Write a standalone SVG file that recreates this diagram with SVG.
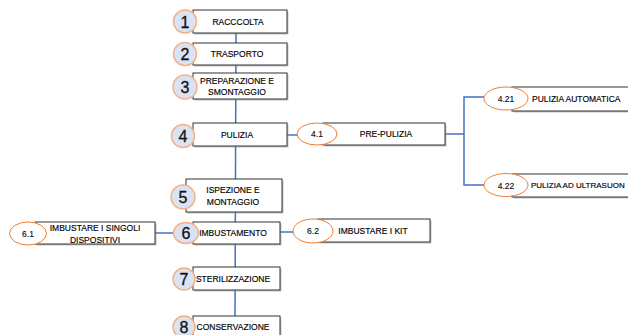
<svg xmlns="http://www.w3.org/2000/svg" width="628" height="335" viewBox="0 0 628 335">
<style>
.box{fill:#fff;stroke:#333;stroke-width:1}
.sh{fill:#999;opacity:.6}
.num{fill:#dae3f3;stroke:#f4b183;stroke-width:1.5}
.sub{fill:#fff;stroke:#ed7d31;stroke-width:1}
.lbl{font-family:"Liberation Sans",Arial,sans-serif;font-size:8.5px;fill:#000;stroke:#000;stroke-width:0.15;text-anchor:middle;dominant-baseline:central}
.n{font-family:"Liberation Sans",Arial,sans-serif;font-size:16px;fill:#111;stroke:#111;stroke-width:0.3;text-anchor:middle;dominant-baseline:central}
.sn{font-family:"Liberation Sans",Arial,sans-serif;font-size:8.5px;fill:#111;stroke:#111;stroke-width:0.15;text-anchor:middle;dominant-baseline:central}
.c{stroke:#4472c4;stroke-width:1.5;fill:none}
</style>
<rect width="628" height="335" fill="#fff"/>
<g id="connectors">
<line class="c" x1="236" y1="33" x2="235" y2="318"/>
<line class="c" x1="287" y1="135" x2="298" y2="135"/>
<line class="c" x1="445" y1="134" x2="464" y2="134"/>
<polyline class="c" points="484,97 464,97 464,185 484,185"/>
<line class="c" x1="155" y1="233" x2="175" y2="233"/>
<line class="c" x1="280" y1="232" x2="294" y2="232"/>
</g>
<g id="n1"><rect class="sh" x="194.5" y="11.5" width="94" height="23"/><rect class="box" x="193" y="10" width="94" height="23"/><circle class="num" cx="185" cy="21.5" r="11.5"/><text class="n" x="185" y="22">1</text><text class="lbl" x="238" y="22">RACCCOLTA</text></g>
<g id="n2"><rect class="sh" x="194.5" y="44.5" width="94" height="22"/><rect class="box" x="193" y="43" width="94" height="22"/><circle class="num" cx="185" cy="54" r="11.5"/><text class="n" x="185" y="54.5">2</text><text class="lbl" x="237" y="54">TRASPORTO</text></g>
<g id="n3"><rect class="sh" x="194.5" y="74.5" width="94" height="26"/><rect class="box" x="193" y="73" width="94" height="26"/><circle class="num" cx="185" cy="87" r="12"/><text class="n" x="185" y="87.5">3</text><text class="lbl" x="237" y="81">PREPARAZIONE E</text><text class="lbl" x="237" y="92">SMONTAGGIO</text></g>
<g id="n4"><rect class="sh" x="194.5" y="124.5" width="94" height="23"/><rect class="box" x="193" y="123" width="94" height="23"/><circle class="num" cx="183" cy="136" r="11.5"/><text class="n" x="183" y="136.5">4</text><text class="lbl" x="237" y="135">PULIZIA</text></g>
<g id="n5"><rect class="sh" x="187.5" y="180.5" width="96" height="33"/><rect class="box" x="186" y="179" width="96" height="33"/><circle class="num" cx="183" cy="197" r="12"/><text class="n" x="183" y="197.5">5</text><text class="lbl" x="233" y="190">ISPEZIONE E</text><text class="lbl" x="233" y="202">MONTAGGIO</text></g>
<g id="n6"><rect class="sh" x="194.5" y="223.5" width="87" height="22"/><rect class="box" x="193" y="222" width="87" height="22"/><ellipse class="num" cx="186" cy="233" rx="12.5" ry="10.5"/><text class="n" x="186" y="233.5">6</text><text class="lbl" x="233" y="233">IMBUSTAMENTO</text></g>
<g id="n7"><rect class="sh" x="194.5" y="268.5" width="87" height="23"/><rect class="box" x="193" y="267" width="87" height="23"/><circle class="num" cx="184" cy="279" r="11"/><text class="n" x="184" y="279.5">7</text><text class="lbl" x="233" y="279">STERILIZZAZIONE</text></g>
<g id="n8"><rect class="sh" x="194.5" y="317.5" width="87" height="23"/><rect class="box" x="193" y="316" width="87" height="23"/><circle class="num" cx="184" cy="327" r="11"/><text class="n" x="184" y="327.5">8</text><text class="lbl" x="233" y="327">CONSERVAZIONE</text></g>
<g id="n41"><rect class="sh" x="324.5" y="124.5" width="122" height="22"/><rect class="box" x="323" y="123" width="122" height="22"/><ellipse class="sub" cx="317" cy="134" rx="20" ry="11"/><text class="sn" x="317" y="134">4.1</text><text class="lbl" x="386" y="134">PRE-PULIZIA</text></g>
<g id="n421"><rect class="sh" x="513.5" y="88.5" width="130" height="24"/><rect class="box" x="512" y="87" width="130" height="24"/><ellipse class="sub" cx="506" cy="98.5" rx="22" ry="11.5"/><text class="sn" x="506" y="98.5">4.21</text><text class="lbl" x="532" y="99" style="text-anchor:start">PULIZIA AUTOMATICA</text></g>
<g id="n422"><rect class="sh" x="513.5" y="175.5" width="130" height="23"/><rect class="box" x="512" y="174" width="130" height="23"/><ellipse class="sub" cx="506" cy="185" rx="22" ry="11.5"/><text class="sn" x="506" y="185.5">4.22</text><text class="lbl" x="531" y="185" style="text-anchor:start;font-size:8px">PULIZIA AD ULTRASUON</text></g>
<g id="n61"><rect class="sh" x="36.5" y="223.5" width="120" height="22"/><rect class="box" x="35" y="222" width="120" height="22"/><ellipse class="sub" cx="28" cy="233.5" rx="18.5" ry="11.5"/><text class="sn" x="28" y="234">6.1</text><text class="lbl" x="95" y="228">IMBUSTARE I SINGOLI</text><text class="lbl" x="95" y="239.5">DISPOSITIVI</text></g>
<g id="n62"><rect class="sh" x="319.5" y="220.5" width="112" height="23"/><rect class="box" x="318" y="219" width="112" height="23"/><ellipse class="sub" cx="313" cy="231" rx="20" ry="12"/><text class="sn" x="313" y="231">6.2</text><text class="lbl" x="373" y="231">IMBUSTARE I KIT</text></g>
</svg>
